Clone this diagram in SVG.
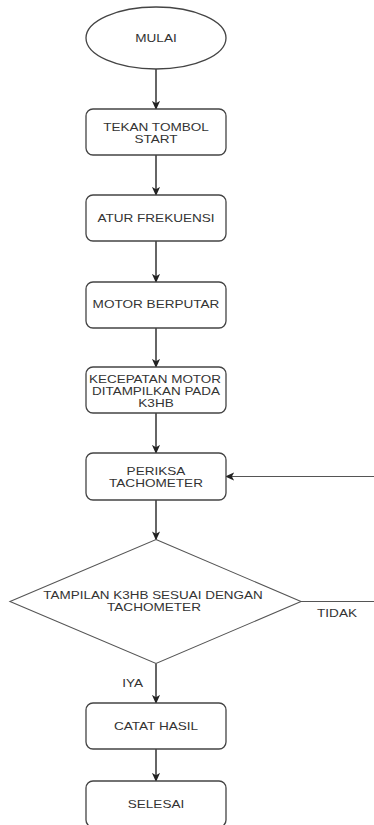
<svg xmlns="http://www.w3.org/2000/svg" width="374" height="825" viewBox="0 0 374 825">
<defs>
<marker id="arr" viewBox="0 0 10 10" refX="9" refY="5" markerWidth="9" markerHeight="9" markerUnits="userSpaceOnUse" orient="auto">
<path d="M0,0.5 L10,5 L0,9.5 L2.5,5 z" fill="#222"/>
</marker>
<style>
.shape{fill:#fff;stroke:#444;stroke-width:1.3}
.dia{fill:#fff;stroke:#555;stroke-width:1.1}
.conn{fill:none;stroke:#333;stroke-width:1.5}
.t{font-family:"Liberation Sans",Arial,sans-serif;font-size:10.8px;fill:#333;text-anchor:middle}
</style>
</defs>
<rect width="374" height="825" fill="#fff"/>
<g id="connectors">
<line class="conn" x1="156" y1="69" x2="156" y2="109" marker-end="url(#arr)"/>
<line class="conn" x1="156" y1="155" x2="156" y2="195" marker-end="url(#arr)"/>
<line class="conn" x1="156" y1="241" x2="156" y2="282" marker-end="url(#arr)"/>
<line class="conn" x1="156" y1="328" x2="156" y2="367" marker-end="url(#arr)"/>
<line class="conn" x1="156" y1="413" x2="156" y2="453" marker-end="url(#arr)"/>
<line class="conn" x1="156" y1="500" x2="156" y2="539.5" marker-end="url(#arr)"/>
<line class="conn" x1="156" y1="663.5" x2="156" y2="703" marker-end="url(#arr)"/>
<line class="conn" x1="156" y1="749" x2="156" y2="781" marker-end="url(#arr)"/>
<line class="conn" x1="301" y1="601.5" x2="376" y2="601.5" style="stroke:#555;stroke-width:1.2"/>
<line class="conn" x1="376" y1="476.5" x2="226" y2="476.5" marker-end="url(#arr)" style="stroke:#555;stroke-width:1.2"/>
<text class="t" transform="translate(337 616.5) scale(1.257 1)">TIDAK</text>
<text class="t" transform="translate(132.7 687) scale(1.257 1)">IYA</text>
</g>
<g id="mulai">
<ellipse class="shape" cx="156" cy="38" rx="70" ry="31"/>
<text class="t" transform="translate(156 42.4) scale(1.257 1)">MULAI</text>
</g>
<g id="tekan">
<rect class="shape" x="86" y="109" width="140" height="46" rx="7"/>
<text class="t" transform="translate(156 131.1) scale(1.257 1)">TEKAN TOMBOL</text>
<text class="t" transform="translate(156 142.7) scale(1.257 1)">START</text>
</g>
<g id="atur">
<rect class="shape" x="86" y="195" width="140" height="46" rx="7"/>
<text class="t" transform="translate(156 222.2) scale(1.257 1)">ATUR FREKUENSI</text>
</g>
<g id="motor">
<rect class="shape" x="86" y="282" width="140" height="46" rx="7"/>
<text class="t" transform="translate(156 308.2) scale(1.257 1)">MOTOR BERPUTAR</text>
</g>
<g id="kecepatan">
<rect class="shape" x="86" y="367" width="140" height="46" rx="7"/>
<text class="t" transform="translate(155 383.3) scale(1.246 1)">KECEPATAN MOTOR</text>
<text class="t" transform="translate(156 394.9) scale(1.246 1)">DITAMPILKAN PADA</text>
<text class="t" transform="translate(156 406.5) scale(1.257 1)">K3HB</text>
</g>
<g id="periksa">
<rect class="shape" x="86" y="453" width="140" height="47" rx="7"/>
<text class="t" transform="translate(156 474.9) scale(1.257 1)">PERIKSA</text>
<text class="t" transform="translate(156 486.5) scale(1.257 1)">TACHOMETER</text>
</g>
<g id="keputusan">
<polygon class="dia" points="156,539.5 301,601.5 156,663.5 10,601.5"/>
<text class="t" transform="translate(153 599.1) scale(1.246 1)">TAMPILAN K3HB SESUAI DENGAN</text>
<text class="t" transform="translate(154 610.7) scale(1.257 1)">TACHOMETER</text>
</g>
<g id="catat">
<rect class="shape" x="86" y="703" width="140" height="46" rx="7"/>
<text class="t" transform="translate(156 729.9) scale(1.257 1)">CATAT HASIL</text>
</g>
<g id="selesai">
<rect class="shape" x="86" y="781" width="140" height="46" rx="7"/>
<text class="t" transform="translate(156 807.9) scale(1.257 1)">SELESAI</text>
</g>
</svg>
